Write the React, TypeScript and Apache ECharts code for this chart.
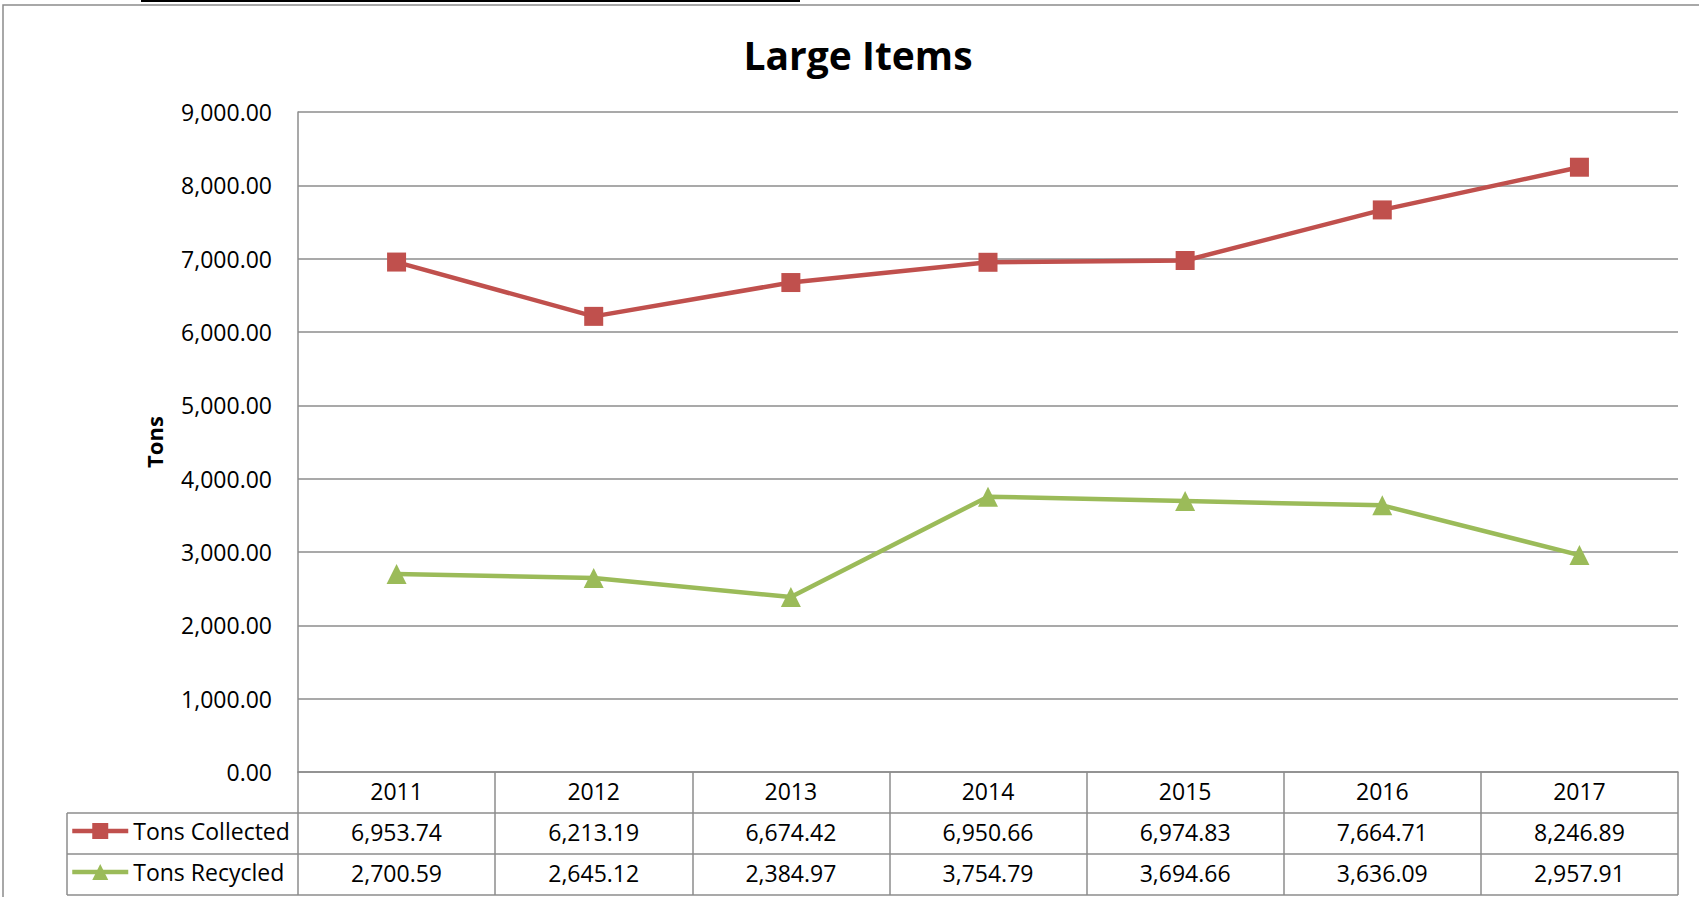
import React, { useEffect, useRef } from "react";
import * as echarts from "echarts";

const years = ["2011", "2012", "2013", "2014", "2015", "2016", "2017"];
const tonsCollected = [6953.74, 6213.19, 6674.42, 6950.66, 6974.83, 7664.71, 8246.89];
const tonsRecycled = [2700.59, 2645.12, 2384.97, 3754.79, 3694.66, 3636.09, 2957.91];
const seriesNames = ["Tons Collected", "Tons Recycled"];
const chartTitle = "Large Items";
const yAxisName = "Tons";

const fmt = (v: number) =>
  v.toLocaleString("en-US", { minimumFractionDigits: 2, maximumFractionDigits: 2 });

const FONT = "'Open Sans', 'Noto Sans', sans-serif";
const GRID_COLOR = "#8c8c8c";
const W = 1699;
const H = 897;
const PLOT_L = 298;
const PLOT_R = 1678;
const PLOT_T = 112;
const PLOT_B = 772;
const TABLE_L = 67;
const ROW1 = 813;
const ROW2 = 854;
const ROW3 = 895;

export default function App() {
  const ref = useRef<HTMLDivElement>(null);
  useEffect(() => {
    document.body.style.margin = "0";
    const chart = echarts.init(ref.current!, undefined, { renderer: "svg" });
    const tableLine = (y: number) => ({
      type: "line",
      shape: { x1: TABLE_L, y1: y, x2: PLOT_R, y2: y },
      style: { stroke: GRID_COLOR, lineWidth: 1.5 },
      silent: true,
    });
    const baseCat = {
      type: "category",
      data: years,
      position: "bottom",
      boundaryGap: true,
      gridIndex: 0,
    };
    chart.setOption({
      animation: false,
      backgroundColor: "#ffffff",
      textStyle: { fontFamily: FONT, color: "#000" },
      title: {
        text: chartTitle,
        left: 853,
        top: 30,
        textAlign: "center",
        textStyle: { fontFamily: FONT, fontWeight: "bold", fontSize: 39, color: "#000" },
      },
      grid: {
        left: PLOT_L,
        right: W - PLOT_R,
        top: PLOT_T,
        bottom: H - PLOT_B,
        containLabel: false,
      },
      legend: {
        orient: "vertical",
        left: 70,
        top: 819,
        padding: 0,
        itemWidth: 56,
        itemHeight: 20,
        itemGap: 17,
        selectedMode: false,
        lineStyle: { width: 4.5 },
        textStyle: { fontFamily: FONT, fontSize: 23, color: "#000", lineHeight: 24 },
        data: seriesNames,
      },
      xAxis: [
        {
          ...baseCat,
          axisLine: { show: true, lineStyle: { color: GRID_COLOR, width: 1.5 } },
          axisTick: { show: true, length: ROW3 - PLOT_B, lineStyle: { color: GRID_COLOR, width: 1.5 } },
          axisLabel: {
            interval: 0,
            margin: 19,
            verticalAlign: "middle",
            fontFamily: FONT,
            fontSize: 23,
            color: "#000",
          },
          splitLine: { show: false },
        },
        {
          ...baseCat,
          axisLine: { show: false },
          axisTick: { show: false },
          axisLabel: {
            interval: 0,
            margin: 60,
            verticalAlign: "middle",
            fontFamily: FONT,
            fontSize: 23,
            color: "#000",
            formatter: (_v: string, i: number) => fmt(tonsCollected[i]),
          },
        },
        {
          ...baseCat,
          axisLine: { show: false },
          axisTick: { show: false },
          axisLabel: {
            interval: 0,
            margin: 101,
            verticalAlign: "middle",
            fontFamily: FONT,
            fontSize: 23,
            color: "#000",
            formatter: (_v: string, i: number) => fmt(tonsRecycled[i]),
          },
        },
      ],
      yAxis: {
        type: "value",
        min: 0,
        max: 9000,
        interval: 1000,
        name: yAxisName,
        nameLocation: "middle",
        nameGap: 133,
        nameRotate: 90,
        nameTextStyle: { fontFamily: FONT, fontWeight: "bold", fontSize: 22, color: "#000" },
        axisLine: { show: true, lineStyle: { color: GRID_COLOR, width: 1.5 } },
        axisTick: { show: false },
        axisLabel: {
          margin: 26,
          fontFamily: FONT,
          fontSize: 23,
          color: "#000",
          formatter: (v: number) => fmt(v),
        },
        splitLine: { show: true, lineStyle: { color: GRID_COLOR, width: 1.5 } },
      },
      graphic: [
        {
          type: "rect",
          shape: { x: 3, y: 5, width: 1800, height: 1000 },
          style: { fill: "none", stroke: GRID_COLOR, lineWidth: 1.5 },
          silent: true,
          z: -1,
        },
        {
          type: "line",
          shape: { x1: 141, y1: 1, x2: 800, y2: 1 },
          style: { stroke: "#000", lineWidth: 2 },
          silent: true,
        },
        tableLine(ROW1),
        tableLine(ROW2),
        tableLine(ROW3),
        {
          type: "line",
          shape: { x1: TABLE_L, y1: ROW1, x2: TABLE_L, y2: ROW3 },
          style: { stroke: GRID_COLOR, lineWidth: 1.5 },
          silent: true,
        },
      ],
      series: [
        {
          name: seriesNames[0],
          type: "line",
          xAxisIndex: 0,
          data: tonsCollected,
          color: "#C0504D",
          lineStyle: { width: 4.5, color: "#C0504D" },
          itemStyle: { color: "#C0504D" },
          symbol: "rect",
          symbolSize: 19,
          showAllSymbol: true,
        },
        {
          name: seriesNames[1],
          type: "line",
          xAxisIndex: 0,
          data: tonsRecycled,
          color: "#9BBB59",
          lineStyle: { width: 4.5, color: "#9BBB59" },
          itemStyle: { color: "#9BBB59" },
          symbol: "triangle",
          symbolSize: 20,
          showAllSymbol: true,
        },
      ],
    });
    return () => chart.dispose();
  }, []);
  return (
    <div
      ref={ref}
      style={{ position: "absolute", left: 0, top: 0, width: W, height: H }}
    />
  );
}
